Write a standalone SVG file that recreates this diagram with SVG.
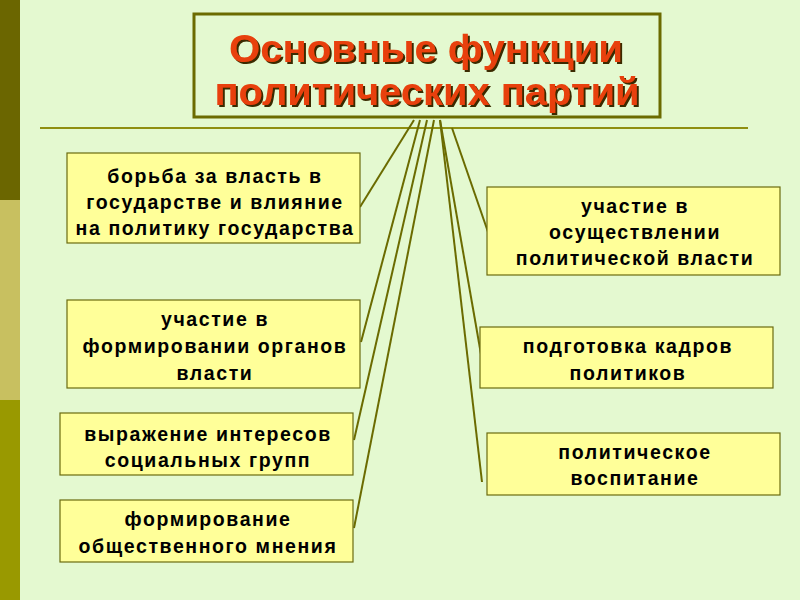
<svg xmlns="http://www.w3.org/2000/svg" width="800" height="600" viewBox="0 0 800 600">
<defs>
<style>
.box{fill:#FFFF99;stroke:#6B6B10;stroke-width:1.2}
.t{font-family:"Liberation Sans",Arial,sans-serif;font-weight:bold;font-size:19.5px;letter-spacing:1.6px;fill:#000;text-anchor:middle}
.ttl{font-family:"Liberation Sans",Arial,sans-serif;font-weight:bold;font-size:38px;text-anchor:middle;fill:#E8400A}
.c{stroke:#6B6B00;stroke-width:2;fill:none}
</style>
<filter id="sh" x="-5%" y="-20%" width="110%" height="140%">
<feDropShadow dx="2" dy="2" stdDeviation="0.3" flood-color="#3A2A00" flood-opacity="1"/>
</filter>
</defs>
<rect width="800" height="600" fill="#E4F9D0"/>
<rect x="0" y="0" width="20" height="200" fill="#6B6600"/>
<rect x="0" y="200" width="20" height="200" fill="#C8C060"/>
<rect x="0" y="400" width="20" height="200" fill="#999900"/>
<line x1="40" y1="128" x2="748" y2="128" stroke="#8F8F10" stroke-width="2"/>
<g id="title">
<rect x="194" y="14" width="466" height="103" fill="#E4F9D0" stroke="#6B6B00" stroke-width="3"/>
<g filter="url(#sh)">
<text class="ttl" x="426" y="62" textLength="394" lengthAdjust="spacingAndGlyphs">Основные функции</text>
<text class="ttl" x="427" y="105" textLength="425" lengthAdjust="spacingAndGlyphs">политических партий</text>
</g>
</g>
<g id="connectors">
<line class="c" x1="414" y1="120" x2="360" y2="207"/>
<line class="c" x1="420" y1="120" x2="361" y2="342"/>
<line class="c" x1="427" y1="120" x2="354" y2="440"/>
<line class="c" x1="434" y1="120" x2="354" y2="528"/>
<line class="c" x1="440" y1="120" x2="482" y2="360"/>
<line class="c" x1="440" y1="120" x2="482" y2="482"/>
<line class="c" x1="452" y1="128" x2="488" y2="232"/>
</g>
<g id="n1">
<rect class="box" x="67" y="153" width="293" height="90"/>
<text class="t" x="215" y="183">борьба за власть в</text>
<text class="t" x="215" y="209">государстве и влияние</text>
<text class="t" x="215" y="235">на политику государства</text>
</g>
<g id="n2">
<rect class="box" x="67" y="300" width="293" height="88"/>
<text class="t" x="215" y="326">участие в</text>
<text class="t" x="215" y="353">формировании органов</text>
<text class="t" x="215" y="380">власти</text>
</g>
<g id="n3">
<rect class="box" x="60" y="413" width="293" height="62"/>
<text class="t" x="208" y="441">выражение интересов</text>
<text class="t" x="208" y="467">социальных групп</text>
</g>
<g id="n4">
<rect class="box" x="60" y="500" width="293" height="62"/>
<text class="t" x="208" y="526">формирование</text>
<text class="t" x="208" y="553">общественного мнения</text>
</g>
<g id="n5">
<rect class="box" x="487" y="187" width="293" height="88"/>
<text class="t" x="635" y="213">участие в</text>
<text class="t" x="635" y="239">осуществлении</text>
<text class="t" x="635" y="265">политической власти</text>
</g>
<g id="n6">
<rect class="box" x="480" y="327" width="293" height="61"/>
<text class="t" x="628" y="353">подготовка кадров</text>
<text class="t" x="628" y="380">политиков</text>
</g>
<g id="n7">
<rect class="box" x="487" y="433" width="293" height="62"/>
<text class="t" x="635" y="459">политическое</text>
<text class="t" x="635" y="485">воспитание</text>
</g>
</svg>
